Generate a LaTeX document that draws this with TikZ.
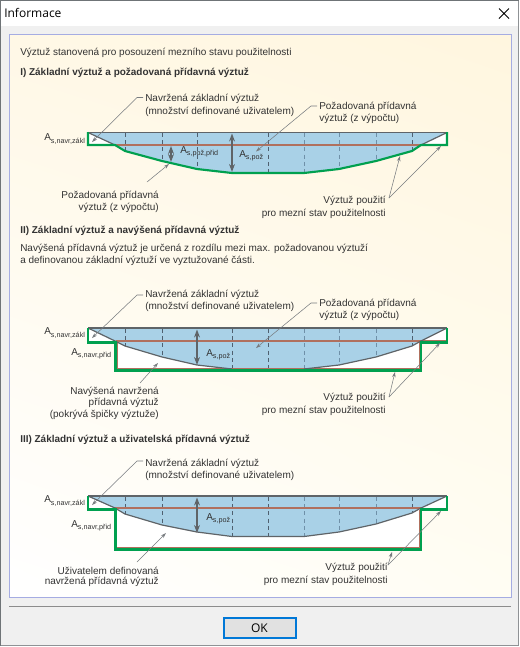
\documentclass[tikz,border=0pt]{standalone}
\usepackage{fontspec}
\setmainfont{Liberation Sans}
\newfontfamily\uifont{Open Sans}
\usetikzlibrary{arrows.meta,shadings}
\definecolor{txt}{HTML}{333333}
\definecolor{blue1}{HTML}{A9D1E7}
\definecolor{grn}{HTML}{00A04F}
\definecolor{brn}{HTML}{B0705E}
\definecolor{gry}{HTML}{5F6468}
\definecolor{dash1}{HTML}{4F6070}
\definecolor{dash2}{HTML}{6F90A8}
\definecolor{dlg}{HTML}{F0F0F0}
\definecolor{pul}{HTML}{FFF8E6}
\definecolor{pur}{HTML}{FFF6DF}
\definecolor{plr}{HTML}{FFFDF3}
\definecolor{pll}{HTML}{FFFFFF}
\definecolor{pbord}{HTML}{A5ACE2}
\definecolor{okb}{HTML}{0078D7}
\definecolor{okf}{HTML}{E1E1E1}
\newcommand{\asub}[2][10]{A\raisebox{-0.25em}{\fontsize{#1 pt}{#1 pt}\selectfont #2}}
\tikzset{
 x=0.75pt,y=-0.75pt,
 lbl/.style={inner sep=0pt,anchor=west,text=txt,font=\fontsize{7.5pt}{9pt}\selectfont},
 lblr/.style={lbl,anchor=east},
 head/.style={lbl,font=\fontsize{7.47pt}{9pt}\selectfont\bfseries},
 asym/.style={lbl,font=\fontsize{7.5pt}{9pt}\selectfont},
 leader/.style={draw=gry!85,line width=0.4pt,-{Stealth[length=4pt,width=2.6pt]}},
 dim/.style={draw=gry,line width=1.0pt,{Stealth[length=6pt,width=4.4pt]}-{Stealth[length=6pt,width=4.4pt]}},
 topline/.style={draw=gry,line width=0.9pt},
 curve/.style={draw=gry,line width=0.9pt,line join=round},
 green/.style={draw=grn,line width=1.6pt,line join=miter},
 brownl/.style={draw=brn,line width=0.8pt},
 dsh/.style={draw=dash1,line width=0.55pt,dash pattern=on 3pt off 2.4pt},
 dshb/.style={draw=dash2,line width=0.7pt,dash pattern=on 3pt off 2.4pt},
}
\begin{document}
\begin{tikzpicture}
\useasboundingbox (0,0) rectangle (520,647);
% dialog
\fill[white] (0,0) rectangle (520,647);
\fill[dlg] (1,26) rectangle (518,645);
\fill[white] (1,1) rectangle (518,26);
\draw[draw=gry!90,line width=0.9pt] (0.8,646) -- (0.8,0.6) -- (519,0.6);
\draw[draw=gry!70,line width=0.7pt] (0.8,645.6) -- (518.6,645.6) -- (518.6,1);
\node[lbl,font=\uifont\fontsize{9pt}{11pt}\selectfont,text=black] (title) at (4,13) {Informace};
\coordinate (xa) at (499,8.5); \coordinate (xb) at (509,18.5);
\coordinate (xc) at (509,8.5); \coordinate (xd) at (499,18.5);
\draw[black,line width=0.6pt] (xa) -- (xb) (xc) -- (xd);
% panel
\shade[lower left=pll,upper left=pul,upper right=pur,lower right=plr] (9.5,34.5) rectangle (511,597);
\draw[draw=pbord,line width=0.75pt] (9.5,34.5) rectangle (511,597);
\draw[draw=gray!90,line width=0.6pt] (9,606) -- (511,606);
\node[draw=okb,fill=okf,line width=1.5pt,minimum width=54pt,minimum height=14.6pt,inner sep=0pt,font=\uifont\fontsize{9pt}{11pt}\selectfont,text=black] (ok) at (259.5,628) {OK};

\node[lbl] (t0) at (20,53) {Výztuž stanovená pro posouzení mezního stavu použitelnosti};
\node[head] (h1) at (20,73) {I) Základní výztuž a požadovaná přídavná výztuž};
\node[head] (h2) at (20,231) {II) Základní výztuž a navýšená přídavná výztuž};
\node[lbl] (p1) at (20,249) {Navýšená přídavná výztuž je určená z rozdílu mezi max. požadovanou výztuží};
\node[lbl] (p2) at (20,261) {a definovanou základní výztuží ve vyztužované části.};
\node[head] (h3) at (20,440) {III) Základní výztuž a uživatelská přídavná výztuž};

% ---- Diagram I
\fill[white] (88,132.5) -- (88,145) -- (115,145) -- (125,151) -- (162,161) -- (197,169) -- (232,173) -- (304,173) -- (339,169) -- (376,161) -- (412,151) -- (421,145) -- (447,145) -- (447,132.5) -- cycle;
\fill[blue1] (88,132.5) -- (115,145) -- (125,151) -- (162,161) -- (197,169) -- (232,173) -- (304,173) -- (339,169) -- (376,161) -- (412,151) -- (421,145) -- (447,132.5) -- cycle;
\foreach \x/\y in {125/151,162/161,197/169,268/173,412/151}{\draw[dsh] (\x,133) -- (\x,\y);}
\foreach \x/\y in {304/173,339/169,376/161}{\draw[dshb] (\x,133) -- (\x,\y);}
\draw[brownl] (115,145) -- (421,145);
\draw[topline] (88,132.5) -- (447,132.5);
\draw[curve] (88,132.5) -- (115,145) (421,145) -- (447,132.5);
\draw[green] (88,132) -- (88,145) -- (115,145) -- (125,151) -- (162,161) -- (197,169) -- (232,173) -- (304,173) -- (339,169) -- (376,161) -- (412,151) -- (421,145) -- (447,145) -- (447,132);
\coordinate (d1a) at (171,146); \coordinate (d1b) at (171,162);
\coordinate (d1c) at (232,133.5); \coordinate (d1d) at (232,172);
\draw[dim] (d1a) -- (d1b);
\draw[dim] (d1c) -- (d1d);
\node[lbl] (a1) at (145,99) {Navržená základní výztuž};
\node[lbl] (a2) at (145,112) {(množství definované uživatelem)};
\node[lbl] (b1) at (319,107) {Požadovaná přídavná};
\node[lbl] (b2) at (319,119) {výztuž (z výpočtu)};
\node[lblr] (c1) at (159,196) {Požadovaná přídavná};
\node[lblr] (c2) at (159,208) {výztuž (z výpočtu)};
\node[lblr] (e1) at (386,201) {Výztuž použití};
\node[lblr] (e2) at (386,214) {pro mezní stav použitelnosti};
\node[asym] (s1) at (44,139) {\asub[5.4]{s,navr,zákl}};
\node[asym] (s2) at (180,152) {\asub[5.4]{s,pož,přid}};
\node[asym] (s3) at (239,156) {\asub[5.4]{s,pož}};
\coordinate (k1) at (92,142); \coordinate (k2) at (256,151.5); \coordinate (k3) at (169,164);
\coordinate (k4) at (147,182); \coordinate (k5) at (389,198); \coordinate (k6) at (400,156); \coordinate (k7) at (441,146);
\draw[leader] (a1.west) ++(-2,-1.5) -- ++(-6,0) -- (k1);
\draw[leader] (b1.west) ++(-2,-1) -- ++(-6,0) -- (k2);
\draw[leader] (k4) -- (k3);
\draw[leader] (k5) -- (k6);
\draw[leader] (k5) -- (k7);

% ---- Diagram II
\fill[white] (88,328) -- (88,342) -- (116,342) -- (116,369.5) -- (421,369.5) -- (421,342) -- (447,342) -- (447,328) -- cycle;
\fill[blue1] (88,328) -- (115,341) -- (125,346) -- (162,357) -- (197,365) -- (232,369) -- (304,369) -- (339,365) -- (376,357) -- (412,346) -- (421,341) -- (447,328) -- cycle;
\foreach \x/\y in {125/346,162/357,232/369,268/369,412/346}{\draw[dsh] (\x,329) -- (\x,\y);}
\foreach \x/\y in {304/369,339/365,376/357}{\draw[dshb] (\x,329) -- (\x,\y);}
\draw[brownl] (116,341) -- (421,341) (116,341) -- (117.5,341) -- (117.5,368.5) -- (419.5,368.5) -- (419.5,341);
\draw[brownl] (421,341) -- (446,341);
\draw[topline] (88,328) -- (447,328);
\draw[curve] (88,328) -- (115,341) -- (125,346) -- (162,357) -- (197,365) -- (232,369) (304,369) -- (339,365) -- (376,357) -- (412,346) -- (421,341) -- (447,328);
\draw[green] (88,328) -- (88,342.5) -- (115.5,342.5) -- (115.5,370.5) -- (421,370.5) -- (421,342.5) -- (447,342.5) -- (447,328);
\coordinate (d2a) at (197,329.5); \coordinate (d2b) at (197,365);
\draw[dim] (d2a) -- (d2b);
\node[lbl] (f1) at (145,295) {Navržená základní výztuž};
\node[lbl] (f2) at (145,307) {(množství definované uživatelem)};
\node[lbl] (g1) at (319,304) {Požadovaná přídavná};
\node[lbl] (g2) at (319,316) {výztuž (z výpočtu)};
\node[lblr] (i1) at (159,391.5) {Navýšená navržená};
\node[lblr] (i2) at (159,403) {přídavná výztuž};
\node[lblr] (i3) at (159,415) {(pokrývá špičky výztuže)};
\node[lblr] (j1) at (386,398) {Výztuž použití};
\node[lblr] (j2) at (386,411) {pro mezní stav použitelnosti};
\node[asym] (s4) at (44,333) {\asub[5.4]{s,navr,zákl}};
\node[asym] (s5) at (71,354) {\asub[5.4]{s,navr,přid}};
\node[asym] (s6) at (206,355) {\asub[5.4]{s,pož}};
\coordinate (m1) at (92,338); \coordinate (m2) at (256,348); \coordinate (m3) at (158,363);
\coordinate (m4) at (140,383); \coordinate (m5) at (389,397); \coordinate (m6) at (395,372); \coordinate (m7) at (440,343);
\draw[leader] (f1.west) ++(-2,0) -- ++(-6,0) -- (m1);
\draw[leader] (g1.west) ++(-2,-1) -- ++(-6,0) -- (m2);
\draw[leader] (m4) -- (m3);
\draw[leader] (m5) -- (m6);
\draw[leader] (m5) -- (m7);

% ---- Diagram III
\fill[white] (88,496) -- (88,509) -- (116,509) -- (116,549) -- (421,549) -- (421,509) -- (447,509) -- (447,496) -- cycle;
\fill[blue1] (88,496) -- (115,508) -- (125,514) -- (162,525) -- (197,532) -- (232,536.5) -- (304,536.5) -- (339,532) -- (376,524) -- (412,513) -- (421,508) -- (447,496) -- cycle;
\foreach \x/\y in {125/514,162/525,232/536.5,268/536.5,412/513}{\draw[dsh] (\x,497) -- (\x,\y);}
\foreach \x/\y in {304/536.5,339/532,376/524}{\draw[dshb] (\x,497) -- (\x,\y);}
\draw[brownl] (115,508) -- (421,508);
\draw[topline] (88,496) -- (447,496);
\draw[curve] (88,496) -- (115,508) -- (125,514) -- (162,525) -- (197,532) -- (232,536.5) -- (304,536.5) -- (339,532) -- (376,524) -- (412,513) -- (421,508) -- (447,496);
\draw[green] (88,496) -- (88,509.5) -- (115.5,509.5) -- (115.5,549.5) -- (421,549.5) -- (421,509.5) -- (447,509.5) -- (447,496);
\draw[brownl] (117,547.6) -- (419.6,547.6) -- (419.6,510);
\coordinate (d3a) at (197,497.5); \coordinate (d3b) at (197,533);
\draw[dim] (d3a) -- (d3b);
\node[lbl] (n1) at (145,464) {Navržená základní výztuž};
\node[lbl] (n2) at (145,476) {(množství definované uživatelem)};
\node[lblr] (o1) at (159,571) {Uživatelem definovaná};
\node[lblr] (o2) at (159,582) {navržená přídavná výztuž};
\node[lblr] (q1) at (388,568) {Výztuž použití};
\node[lblr] (q2) at (388,581) {pro mezní stav použitelnosti};
\node[asym] (s7) at (44,501) {\asub[5.4]{s,navr,zákl}};
\node[asym] (s8) at (71,526) {\asub[5.4]{s,navr,přid}};
\node[asym] (s9) at (206,519) {\asub[5.4]{s,pož}};
\coordinate (r1) at (92,505); \coordinate (r3) at (166,533);
\coordinate (r4) at (137,562); \coordinate (r5) at (388,565); \coordinate (r6) at (392,552); \coordinate (r7) at (441,511);
\draw[leader] (n1.west) ++(-2,-3) -- ++(-6,0) -- (r1);
\draw[leader] (r4) -- (r3);
\draw[leader] (r5) -- (r6);
\draw[leader] (r5) -- (r7);
\end{tikzpicture}
\end{document}
